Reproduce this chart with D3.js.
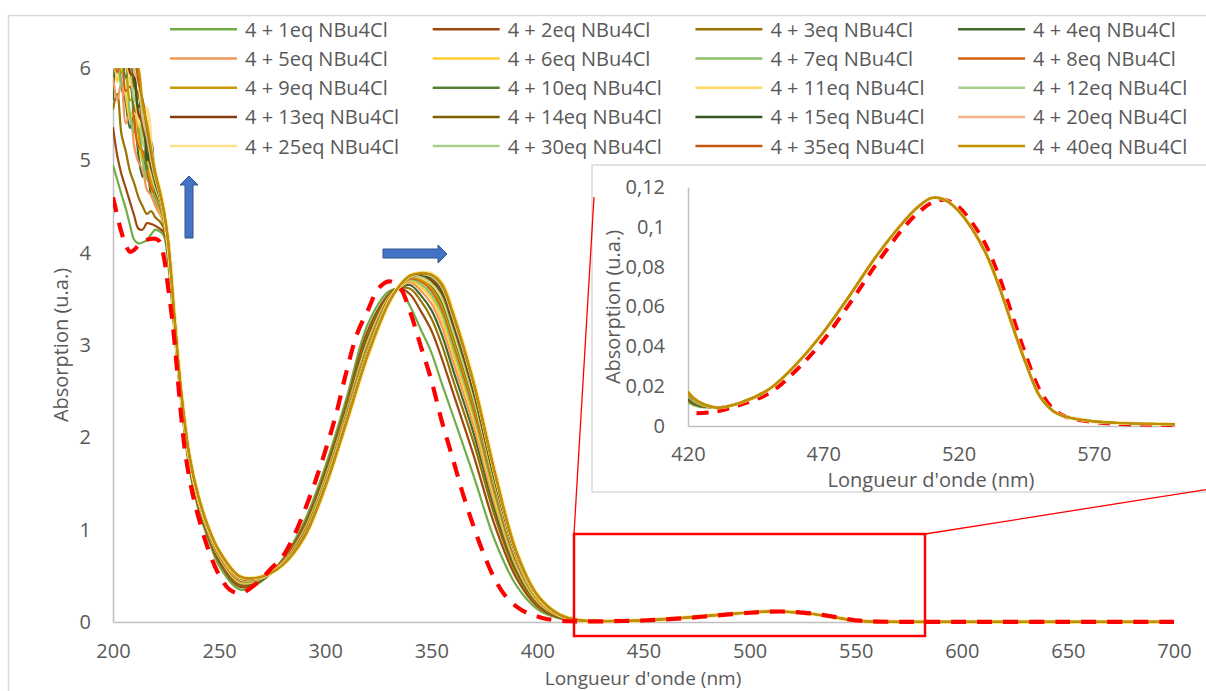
<!DOCTYPE html>
<html><head><meta charset="utf-8">
<script src="https://cdn.jsdelivr.net/npm/d3@7"></script>
<style>
html,body{margin:0;padding:0;background:#fff;}
svg{display:block;font-family:"Open Sans","Noto Sans",sans-serif;}
</style></head><body>
<svg id="c" width="1206" height="691"></svg>
<script>
// ---------- DATA ----------
const uvWl = [200,202,204,206,208,210,212,214,216,218,220,222,224,226,229,232,236,240,245,250,260,270,280,290,300,310,320,330,335,340,345,350,355,360,370,380,390,400,410,420];
const eq1  = [4.95,4.79,4.63,4.48,4.30,4.14,4.10,4.11,4.14,4.20,4.25,4.23,4.18,3.88, 3.12,2.40,1.66,1.24,0.89,0.61,0.35,0.44,0.68,1.08,1.68,2.42,3.22,3.58,3.60,3.42,3.17,2.92,2.58,2.25,1.58,0.88,0.40,0.14,0.04,0.012];
const eq2  = [5.36,5.05,4.85,4.70,4.55,4.40,4.26,4.25,4.32,4.31,4.29,4.26,4.22,3.96, 3.16,2.43,1.69,1.27,0.92,0.65,0.38,0.45,0.67,1.04,1.63,2.36,3.15,3.55,3.61,3.55,3.37,3.16,2.85,2.50,1.80,1.04,0.48,0.17,0.05,0.013];
const eq3  = [5.55,5.72,5.28,5.10,4.88,4.75,4.60,4.50,4.42,4.45,4.38,4.34,4.26,3.98, 3.18,2.44,1.71,1.29,0.94,0.67,0.40,0.46,0.66,1.02,1.60,2.33,3.10,3.54,3.61,3.61,3.48,3.29,3.00,2.64,1.94,1.14,0.53,0.19,0.056,0.014];
const eq4  = [5.65,6.25,5.80,5.62,5.35,5.48,5.05,4.82,5.05,4.62,4.55,4.45,4.30,4.00, 3.20,2.45,1.72,1.30,0.95,0.68,0.41,0.46,0.65,1.00,1.58,2.30,3.07,3.53,3.62,3.65,3.54,3.38,3.11,2.75,2.04,1.21,0.57,0.21,0.06,0.014];
const eq5  = [5.90,5.65,5.85,5.40,5.50,5.15,4.98,4.90,4.68,4.62,4.50,4.42,4.31,4.01, 3.22,2.46,1.73,1.31,0.96,0.70,0.42,0.47,0.65,0.99,1.56,2.28,3.04,3.52,3.62,3.68,3.59,3.45,3.20,2.84,2.12,1.27,0.60,0.22,0.064,0.015];
const eq6  = [6.30,5.85,6.10,5.70,5.45,5.60,5.20,4.98,4.85,4.70,4.58,4.46,4.33,4.03, 3.23,2.47,1.74,1.32,0.97,0.71,0.43,0.47,0.64,0.98,1.55,2.26,3.02,3.51,3.62,3.70,3.63,3.51,3.27,2.92,2.19,1.32,0.62,0.23,0.067,0.015];
const eq7  = [6.05,6.20,5.80,5.90,5.50,5.30,5.35,5.00,4.80,4.72,4.56,4.48,4.34,4.04, 3.24,2.48,1.75,1.33,0.98,0.72,0.44,0.47,0.64,0.97,1.54,2.25,3.00,3.50,3.63,3.71,3.66,3.55,3.34,2.99,2.25,1.37,0.64,0.24,0.07,0.015];
const eq8  = [6.35,5.95,6.15,5.75,5.80,5.40,5.15,5.10,4.88,4.70,4.62,4.50,4.35,4.05, 3.25,2.49,1.76,1.34,0.98,0.72,0.45,0.48,0.64,0.96,1.52,2.24,2.98,3.50,3.63,3.72,3.69,3.59,3.39,3.05,2.30,1.41,0.66,0.25,0.072,0.016];
const eq9  = [6.20,6.40,5.95,6.05,5.65,5.70,5.30,5.05,4.95,4.78,4.64,4.52,4.36,4.06, 3.26,2.49,1.77,1.35,0.99,0.73,0.46,0.48,0.64,0.95,1.52,2.23,2.97,3.49,3.63,3.73,3.71,3.62,3.43,3.09,2.35,1.44,0.68,0.25,0.074,0.016];
const eq10 = [6.45,6.05,6.25,5.90,5.98,5.55,5.50,5.45,4.90,5.05,4.66,4.55,4.37,4.07, 3.26,2.50,1.77,1.35,0.99,0.74,0.46,0.48,0.63,0.95,1.51,2.22,2.95,3.49,3.63,3.73,3.74,3.65,3.47,3.14,2.39,1.47,0.69,0.26,0.076,0.016];
const eq11 = [6.35,6.50,6.10,6.20,5.85,5.75,5.40,5.30,5.05,4.85,4.70,4.57,4.38,4.08, 3.27,2.50,1.77,1.35,1.00,0.74,0.46,0.48,0.63,0.94,1.50,2.21,2.94,3.48,3.63,3.74,3.73,3.66,3.50,3.17,2.42,1.49,0.70,0.26,0.077,0.016];
const eq12 = [6.55,6.20,6.40,6.00,6.05,5.65,5.60,5.20,5.08,4.88,4.72,4.59,4.39,4.08, 3.27,2.50,1.78,1.36,1.00,0.75,0.47,0.48,0.63,0.94,1.49,2.20,2.93,3.48,3.63,3.74,3.74,3.68,3.53,3.20,2.45,1.51,0.72,0.27,0.078,0.016];
const eq13 = [6.40,6.65,6.25,6.35,5.95,5.90,5.50,5.40,5.10,4.92,4.75,4.60,4.40,4.09, 3.28,2.51,1.78,1.36,1.00,0.75,0.47,0.48,0.63,0.93,1.49,2.19,2.92,3.47,3.64,3.74,3.76,3.70,3.56,3.24,2.48,1.53,0.73,0.27,0.08,0.016];
const eq14 = [6.65,6.35,6.55,6.15,6.20,5.80,5.72,5.35,5.15,4.95,4.76,4.61,4.41,4.10, 3.28,2.51,1.79,1.37,1.01,0.75,0.48,0.49,0.63,0.93,1.48,2.19,2.91,3.47,3.64,3.75,3.76,3.72,3.58,3.26,2.50,1.55,0.73,0.28,0.081,0.017];
const eq15 = [6.50,6.75,6.40,6.45,6.10,5.95,5.58,5.62,5.00,5.20,4.78,4.63,4.42,4.10, 3.29,2.51,1.79,1.37,1.01,0.76,0.48,0.49,0.62,0.92,1.48,2.18,2.91,3.47,3.64,3.75,3.76,3.73,3.60,3.28,2.52,1.56,0.74,0.28,0.081,0.017];
const eq20 = [6.75,6.50,6.70,6.30,6.35,5.95,5.85,5.45,5.25,5.00,4.80,4.64,4.43,4.11, 3.29,2.51,1.79,1.37,1.01,0.76,0.48,0.49,0.62,0.92,1.47,2.17,2.90,3.47,3.64,3.75,3.77,3.74,3.62,3.31,2.55,1.58,0.75,0.28,0.083,0.017];
const eq25 = [6.65,6.85,6.55,6.60,6.25,6.10,5.95,5.60,5.55,5.10,4.85,4.67,4.45,4.12, 3.30,2.52,1.80,1.38,1.02,0.77,0.49,0.49,0.62,0.91,1.46,2.16,2.88,3.46,3.64,3.75,3.78,3.77,3.67,3.37,2.60,1.62,0.77,0.29,0.085,0.017];
const eq30 = [6.85,6.60,6.80,6.40,6.45,6.05,5.90,5.55,5.30,5.02,4.82,4.65,4.44,4.12, 3.29,2.52,1.80,1.38,1.02,0.77,0.49,0.49,0.62,0.92,1.47,2.17,2.89,3.46,3.64,3.75,3.77,3.75,3.64,3.34,2.57,1.60,0.76,0.29,0.084,0.017];
const eq35 = [6.70,6.90,6.65,6.55,6.30,6.20,5.85,5.65,5.35,5.08,4.84,4.66,4.44,4.12, 3.29,2.52,1.80,1.38,1.02,0.77,0.49,0.49,0.62,0.92,1.47,2.17,2.89,3.46,3.64,3.75,3.77,3.76,3.65,3.35,2.58,1.61,0.76,0.29,0.084,0.017];
const eq40 = [6.90,6.65,6.85,6.50,6.50,6.10,6.00,5.60,5.40,5.12,4.86,4.67,4.45,4.12, 3.30,2.52,1.80,1.38,1.02,0.77,0.49,0.49,0.62,0.91,1.46,2.16,2.89,3.46,3.64,3.75,3.78,3.76,3.66,3.36,2.59,1.61,0.77,0.29,0.085,0.017];

// visible band (shared by the titration series, indistinguishable at this scale)
const tailWl      = [430,440,450,460,470,480,490,500,505,510,515,520,525,530,535,540,545,550,555,560,570,580,600,650,700];
const tailColored = [0.0093,0.012,0.0185,0.031,0.047,0.066,0.086,0.103,0.110,0.1145,0.1135,0.108,0.099,0.087,0.070,0.050,0.031,0.015,0.0075,0.0045,0.0023,0.0015,0.0008,0.0005,0.0004];

// reference compound 4 (red dashed)
const refWl  = [200,202,204,206,208,210,212,214,216,218,220,222,224,226,228,230,232,234,236,238,240,245,250,255,260,265,270,275,280,285,290,295,300,305,310,315,320,325,330,335,340,345,350,355,360,365,370,375,380,385,390,395,400,405,410,415,420];
const refAbs = [4.60,4.40,4.22,4.08,4.01,4.03,4.08,4.12,4.14,4.15,4.15,4.12,3.95,3.62,3.26,2.78,2.26,1.84,1.56,1.34,1.16,0.78,0.51,0.35,0.31,0.37,0.47,0.59,0.71,0.92,1.19,1.50,1.85,2.24,2.71,3.12,3.37,3.61,3.69,3.63,3.36,2.99,2.62,2.17,1.78,1.38,1.03,0.72,0.46,0.28,0.17,0.10,0.06,0.03,0.015,0.008,0.0065];
const refTail = [0.0072,0.011,0.0165,0.028,0.043,0.062,0.082,0.100,0.107,0.112,0.1135,0.110,0.102,0.091,0.075,0.055,0.035,0.018,0.0085,0.0045,0.002,0.001,0.0005,0.0003,0.0003];

const seriesNames = ["4 + 1eq NBu4Cl","4 + 2eq NBu4Cl","4 + 3eq NBu4Cl","4 + 4eq NBu4Cl","4 + 5eq NBu4Cl","4 + 6eq NBu4Cl","4 + 7eq NBu4Cl","4 + 8eq NBu4Cl","4 + 9eq NBu4Cl","4 + 10eq NBu4Cl","4 + 11eq NBu4Cl","4 + 12eq NBu4Cl","4 + 13eq NBu4Cl","4 + 14eq NBu4Cl","4 + 15eq NBu4Cl","4 + 20eq NBu4Cl","4 + 25eq NBu4Cl","4 + 30eq NBu4Cl","4 + 35eq NBu4Cl","4 + 40eq NBu4Cl"];
const seriesValues = [eq1,eq2,eq3,eq4,eq5,eq6,eq7,eq8,eq9,eq10,eq11,eq12,eq13,eq14,eq15,eq20,eq25,eq30,eq35,eq40];

const xTicksMain = [200,250,300,350,400,450,500,550,600,650,700];
const yTicksMain = [0,1,2,3,4,5,6];
const xTicksInset = [420,470,520,570];
const yTicksInset = [0,0.02,0.04,0.06,0.08,0.1,0.12];
const yTickLabelsInset = ["0","0,02","0,04","0,06","0,08","0,1","0,12"];

// ---------- STYLE ----------
const palette = ["#70AD47","#9E480E","#997300","#43682B","#F1975A","#FFCD33","#8CC168","#D26012","#C99A06","#548235","#FFD966","#A9D18E","#843C0C","#7F6000","#375623","#F4B183","#FFE08C","#A9D18E","#C55A11","#BF9000"];
const widths  = [2.2,2.2,2.2,2.2,2.2,2.2,2.2,2.2,2.2,2.2,2.2,2.2,2.2,2.2,2.2,2.2,4.2,2.2,2.2,2.2];
const textCol = "#595959", axisCol = "#bfbfbf", borderCol = "#d9d9d9";
const FS = 20;

const svg = d3.select("#c");
svg.append("rect").attr("width",1206).attr("height",691).attr("fill","#fff");
svg.append("rect").attr("x",8.5).attr("y",15.5).attr("width",1260).attr("height",720)
  .attr("fill","#fff").attr("stroke",borderCol).attr("stroke-width",1.5);

// ---------- MAIN CHART ----------
const x = d3.scaleLinear().domain([200,700]).range([113,1174]);
const y = d3.scaleLinear().domain([0,6]).range([622,68]);

const defs = svg.append("defs");
defs.append("clipPath").attr("id","clipMain").append("rect").attr("x",113).attr("y",68).attr("width",1061).attr("height",562);

const gx = svg.append("g").attr("transform","translate(0,622)")
  .call(d3.axisBottom(x).tickValues(xTicksMain).tickSize(0).tickSizeOuter(0).tickPadding(22).tickFormat(d3.format("d")));
const gy = svg.append("g").attr("transform","translate(113,0)")
  .call(d3.axisLeft(y).tickValues(yTicksMain).tickSize(0).tickSizeOuter(0).tickPadding(22).tickFormat(d3.format("d")));
[gx,gy].forEach(g=>{
  g.select(".domain").attr("stroke",axisCol).attr("stroke-width",1.5);
  g.selectAll("text").attr("fill",textCol).style("font-size",FS+"px").style("font-family","'Open Sans',sans-serif");
});
svg.append("text").attr("x",643).attr("y",678).attr("text-anchor","middle").attr("dominant-baseline","central")
  .attr("fill",textCol).style("font-size","19px").text("Longueur d'onde (nm)");
svg.append("text").attr("transform","translate(60,345) rotate(-90)").attr("text-anchor","middle").attr("dominant-baseline","central")
  .attr("fill",textCol).style("font-size",FS+"px").text("Absorption (u.a.)");

const line = d3.line().x(d=>x(d[0])).y(d=>y(d[1])).curve(d3.curveCatmullRom.alpha(0.5));
const plot = svg.append("g").attr("clip-path","url(#clipMain)");

function seriesPoints(vals){
  return uvWl.map((w,i)=>[w,vals[i]]).concat(tailWl.map((w,i)=>[w,tailColored[i]]));
}
const refPoints = refWl.map((w,i)=>[w,refAbs[i]]).concat(tailWl.map((w,i)=>[w,refTail[i]]));

seriesValues.forEach((vals,i)=>{
  plot.append("path").datum(seriesPoints(vals)).attr("d",line)
    .attr("fill","none").attr("stroke",palette[i]).attr("stroke-width",widths[i]).attr("stroke-linejoin","round");
});
plot.append("path").datum(refPoints).attr("d",line)
  .attr("fill","none").attr("stroke","#FF0000").attr("stroke-width",4.2).attr("stroke-dasharray","15 11");

// ---------- LEGEND ----------
const leg = svg.append("g");
seriesNames.forEach((n,i)=>{
  const col=i%4,row=Math.floor(i/4);
  const lx=170+col*262.7, ly=29.3+row*29.2;
  leg.append("line").attr("x1",lx).attr("x2",lx+67).attr("y1",ly).attr("y2",ly)
    .attr("stroke",palette[i]).attr("stroke-width",2.5);
  leg.append("text").attr("x",lx+75).attr("y",ly).attr("dominant-baseline","central")
    .attr("fill",textCol).style("font-size",FS+"px").text(n);
});

// ---------- ARROWS ----------
svg.append("path").attr("d","M185,238 L185,185 L180,185 L189,176 L198,185 L193,185 L193,238 Z")
  .attr("fill","#4472C4").attr("stroke","#2F528F").attr("stroke-width",1);
svg.append("path").attr("d","M383,249 L438,249 L438,245 L447,254 L438,263 L438,258 L383,258 Z")
  .attr("fill","#4472C4").attr("stroke","#2F528F").attr("stroke-width",1);

// ---------- INSET ----------
svg.append("rect").attr("x",592).attr("y",165).attr("width",700).attr("height",327)
  .attr("fill","#fff").attr("stroke",borderCol).attr("stroke-width",1.5);
const xi = d3.scaleLinear().domain([420,600]).range([688,1175]);
const yi = d3.scaleLinear().domain([0,0.12]).range([426,187]);
defs.append("clipPath").attr("id","clipInset").append("rect").attr("x",688).attr("y",180).attr("width",487).attr("height",250);

const gxi = svg.append("g").attr("transform","translate(0,426)")
  .call(d3.axisBottom(xi).tickValues(xTicksInset).tickSize(0).tickSizeOuter(0).tickPadding(21).tickFormat(d3.format("d")));
const gyi = svg.append("g").attr("transform","translate(688,0)")
  .call(d3.axisLeft(yi).tickValues(yTicksInset).tickSize(0).tickSizeOuter(0).tickPadding(23).tickFormat((d,i)=>yTickLabelsInset[i]));
[gxi,gyi].forEach(g=>{
  g.select(".domain").attr("stroke",axisCol).attr("stroke-width",1.5);
  g.selectAll("text").attr("fill",textCol).style("font-size",FS+"px").style("font-family","'Open Sans',sans-serif");
});
svg.append("text").attr("x",931).attr("y",479).attr("text-anchor","middle").attr("dominant-baseline","central")
  .attr("fill",textCol).style("font-size",FS+"px").text("Longueur d'onde (nm)");
svg.append("text").attr("transform","translate(612,307) rotate(-90)").attr("text-anchor","middle").attr("dominant-baseline","central")
  .attr("fill",textCol).style("font-size",FS+"px").text("Absorption (u.a.)");

const lineI = d3.line().x(d=>xi(d[0])).y(d=>yi(d[1])).curve(d3.curveCatmullRom.alpha(0.5));
const inset = svg.append("g").attr("clip-path","url(#clipInset)");
inset.append("path").datum(refPoints.filter(d=>d[0]>=410)).attr("d",lineI)
  .attr("fill","none").attr("stroke","#FF0000").attr("stroke-width",4).attr("stroke-dasharray","12 9");
seriesValues.forEach((vals,i)=>{
  inset.append("path").datum(seriesPoints(vals).filter(d=>d[0]>=410)).attr("d",lineI)
    .attr("fill","none").attr("stroke",palette[i]).attr("stroke-width",i===16?3.5:2.2);
});

// ---------- ZOOM BOX ----------
svg.append("rect").attr("x",574).attr("y",534).attr("width",351).attr("height",102)
  .attr("fill","none").attr("stroke","#FF0000").attr("stroke-width",2.5);
svg.append("line").attr("x1",574).attr("y1",534).attr("x2",594).attr("y2",197).attr("stroke","#FF0000").attr("stroke-width",1.3);
svg.append("line").attr("x1",925).attr("y1",534).attr("x2",1300).attr("y2",474.7).attr("stroke","#FF0000").attr("stroke-width",1.3);
</script>
</body></html>
